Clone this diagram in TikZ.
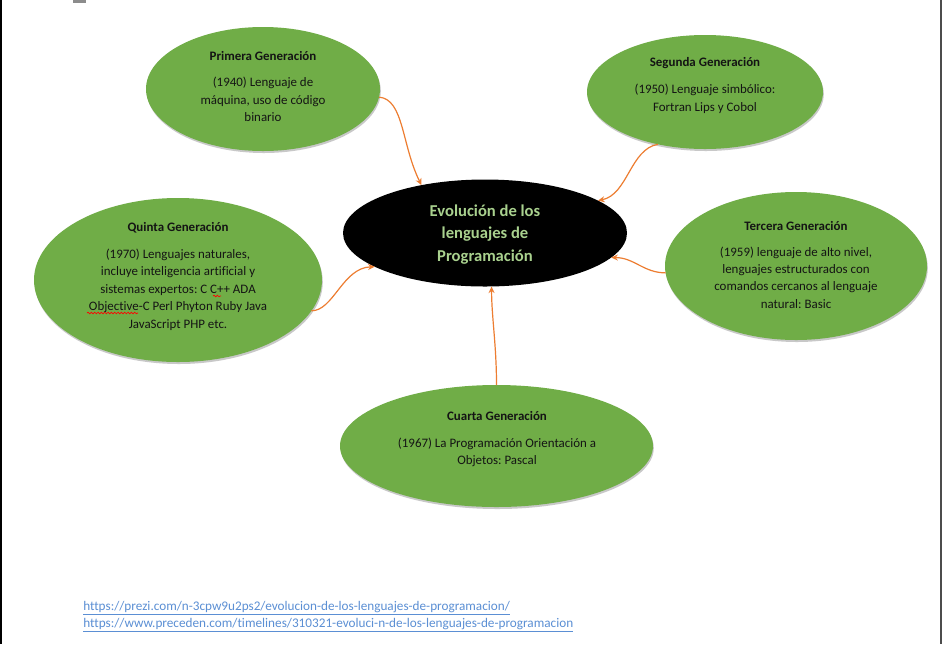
\documentclass[tikz,border=0pt]{standalone}
\usepackage{fontspec}
\setmainfont[Ligatures=NoCommon]{Carlito}
\usetikzlibrary{shapes.geometric,arrows.meta,shadows,decorations.pathmorphing}
\definecolor{genc}{HTML}{70AD47}
\definecolor{connc}{HTML}{ED7D31}
\definecolor{ctextc}{HTML}{A9D18E}
\definecolor{linkc}{HTML}{5B8FD4}
\frenchspacing
\begin{document}
\begin{tikzpicture}[x=0.75pt,y=-0.75pt,
  genell/.style 2 args={ellipse, fill=genc, inner sep=0pt, outer sep=0pt,
    minimum width={#1*1.5pt}, minimum height={#2*1.5pt},
    drop shadow={shadow xshift=0.6pt, shadow yshift=-1.5pt, opacity=0.3, fill=black!70}},
  gentext/.style={align=center, inner sep=0pt, font=\fontsize{9.7}{13.1}\selectfont, text=black!92},
  connector/.style={draw=connc, line width=0.9pt, -{Stealth[length=5pt,width=4.5pt]}},
  linktext/.style={anchor=west, inner sep=0pt, text=linkc, font=\fontsize{9.5}{11}\selectfont},
  spell/.style={draw=red, line width=0.5pt, decorate, decoration={snake, amplitude=0.6pt, segment length=2.5pt}}
]
\useasboundingbox (0,0) rectangle (945,644);
\fill[white] (0,0) rectangle (945,644);
% page borders
\draw[black, line width=1.5pt] (1,0) -- (1,644);
\draw[black!70, line width=0.9pt] (941,0) -- (941,644);
\fill[black!45] (73,0) rectangle (86,3);

% ellipses
\node[genell={117}{62}] (p1) at (263,89) {};
\node[genell={118}{57}] (s2) at (705,92) {};
\node[genell={131}{74}] (t3) at (796,266) {};
\node[genell={144}{82}] (q5) at (178,280) {};
\node[genell={156.5}{61}] (c4) at (496.5,446) {};
\node[ellipse, fill=black, inner sep=0pt, outer sep=0pt, minimum width={142*1.5pt}, minimum height={53.5*1.5pt}] (c) at (485,233) {};

% texts
\node[gentext] (p1t) at (263,86.5) {\textbf{Primera Generación}\\[7pt](1940) Lenguaje de\\máquina, uso de código\\binario};
\node[gentext] (s2t) at (705,85.5) {\textbf{Segunda Generación}\\[7pt](1950) Lenguaje simbólico:\\Fortran Lips y Cobol};
\node[gentext] (t3t) at (796,265) {\textbf{Tercera Generación}\\[6pt](1959) lenguaje de alto nivel,\\lenguajes estructurados con\\comandos cercanos al lenguaje\\natural: Basic};
\node[gentext] (q5t) at (178,276.5) {\textbf{Quinta Generación}\\[7pt](1970) Lenguajes naturales,\\incluye inteligencia artificial y\\sistemas expertos: C C++ ADA\\Objective-C Perl Phyton Ruby Java\\JavaScript PHP etc.};
\node[gentext] (c4t) at (497,439) {\textbf{Cuarta Generación}\\[7pt](1967) La Programación Orientación a\\Objetos: Pascal};
\node[align=center, inner sep=0pt, text=ctextc, font=\fontsize{12.45}{16.9}\selectfont\bfseries] (ct) at (485,234.5) {Evolución de los\\lenguajes de\\Programación};

% spelling marks
\draw[spell] (87,313) -- (138,313);
\draw[spell] (213,296) -- (221,296);

% connectors
\draw[connector] (p1.-4) .. controls +(25,2) and +(-20,-40) .. (c.143);
\draw[connector] (s2.228) .. controls +(-28,5) and +(30,-6) .. (c.16);
\draw[connector] (t3.183) .. controls +(-22,0) and +(23,0) .. (c.-11);
\draw[connector] (q5.-13) .. controls +(22,0) and +(-32,1) .. (c.197.5);
\draw[connector] (c4.north) .. controls +(0,-40) and +(0,30) .. (c.-83);

% links
\node[linktext] (l1) at (83,608) {\resizebox{320pt}{!}{\underline{https://prezi.com/n-3cpw9u2ps2/evolucion-de-los-lenguajes-de-programacion/}}};
\node[linktext] (l2) at (83,625) {\resizebox{367.5pt}{!}{\underline{https://www.preceden.com/timelines/310321-evoluci-n-de-los-lenguajes-de-programacion}}};
\end{tikzpicture}
\end{document}
